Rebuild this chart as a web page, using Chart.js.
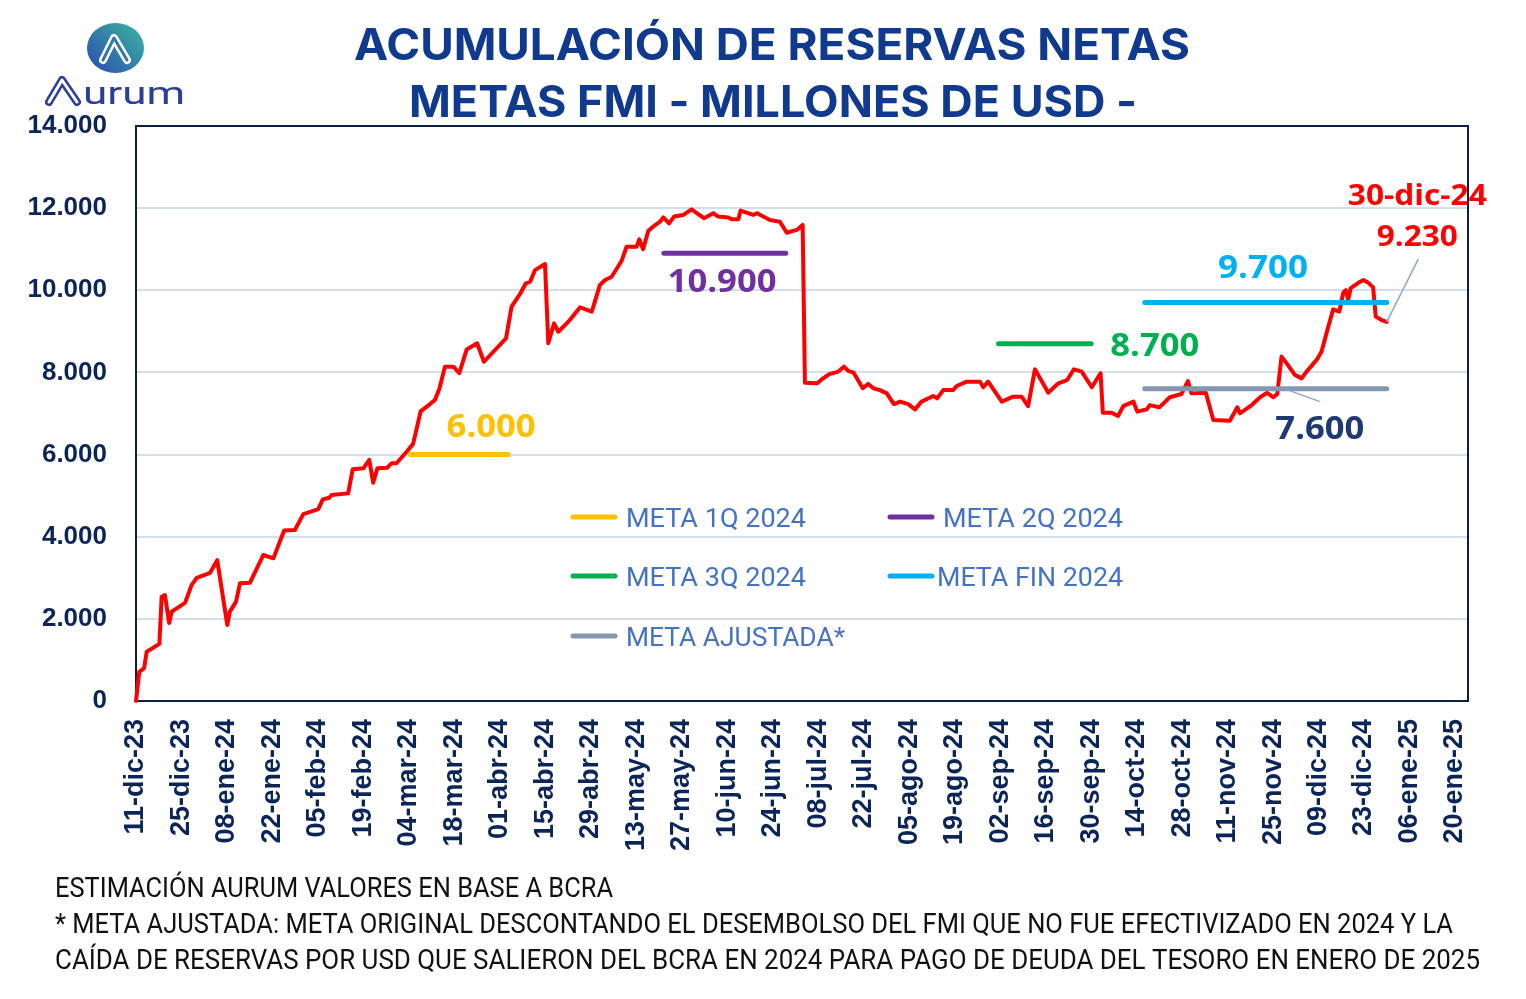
<!DOCTYPE html>
<html><head><meta charset="utf-8">
<script src="https://cdn.jsdelivr.net/npm/chart.js@4.4.1/dist/chart.umd.min.js"></script>
<style>html,body{margin:0;padding:0;background:#fff;}#wrap{width:1526px;height:999px;}</style>
</head><body><div id="wrap"><canvas id="c" width="1526" height="999"></canvas></div>
<script>
// ---------- DATA ----------
const tickLabels = ['11-dic-23','25-dic-23','08-ene-24','22-ene-24','05-feb-24','19-feb-24','04-mar-24','18-mar-24','01-abr-24','15-abr-24','29-abr-24','13-may-24','27-may-24','10-jun-24','24-jun-24','08-jul-24','22-jul-24','05-ago-24','19-ago-24','02-sep-24','16-sep-24','30-sep-24','14-oct-24','28-oct-24','11-nov-24','25-nov-24','09-dic-24','23-dic-24','06-ene-25','20-ene-25'];
const tickStepDays = 14;
const axisMaxDays = 410;
const yTicks = [0,2000,4000,6000,8000,10000,12000,14000];

// days since 11-dic-23
const days = [0,1,2.5,3.3,7.2,7.9,8.9,10.2,11,15.1,
17.1,18.7,22.8,25,28.1,28.9,30.8,32,35.1,39.2,
42.3,45.6,48.9,51.5,56.1,57.5,59.5,60.2,65.3,66.7,
70,71.8,73,74.3,77.3,78.7,80.2,83.3,85.3,87.6,
90.5,92,93.4,95.1,97.7,99.5,101.8,105,107.1,113.9,
115.6,118.2,120,121.3,122.8,125.9,126.9,128.7,130,133.1,
136.7,140.3,142.8,144.4,146.4,149.5,151,154.1,154.9,156.1,
157.7,159.2,161.3,162.3,164.1,165.6,168.5,171,174.8,177.7,
179.2,182.3,183.3,185.4,186.1,190,191.2,195.1,198.2,200.3,
203.4,205.2,205.9,209.7,211.4,213.4,216.2,217.9,219.2,220.9,
223.7,225.4,227,229,231.1,233.3,235.2,237.7,239.8,241.8,
245.4,246.6,248.5,251.5,252.6,255.7,259.8,260.8,262.3,266.5,
270,272.6,274.6,276.7,280.8,283.9,286.6,288.7,291.1,294.2,
296.9,297.6,300.3,302.3,303.9,307,308.2,311.1,312.1,315,
318.2,321.8,323.8,324.9,329.3,331.6,336.7,339,339.8,343.1,
346,348.2,350.1,351.3,352.6,354.2,356.7,358.8,360.3,363.4,
364.9,367,368.5,370.4,371.6,372.4,373.1,373.9,374.9,376.8,
377.8,379.3,380.8,381.6,383.4,385];
const reservas = [0,710,800,1200,1390,2540,2580,1900,2175,2390,
2820,3000,3120,3430,1850,2175,2420,2865,2880,3555,
3475,4150,4165,4550,4670,4910,4950,5015,5055,5640,
5665,5870,5315,5665,5680,5790,5790,6070,6260,7050,
7230,7330,7610,8140,8140,7980,8560,8710,8260,8830,
9600,9910,10170,10210,10490,10640,8710,9195,8990,9235,
9585,9480,10130,10250,10330,10720,11060,11060,11240,11000,
11450,11550,11670,11775,11630,11795,11835,11970,11755,11875,
11795,11775,11730,11730,11940,11835,11875,11710,11670,11400,
11470,11590,7750,7735,7850,7960,8020,8140,8040,7995,
7615,7720,7615,7570,7490,7230,7290,7230,7100,7290,
7425,7370,7570,7570,7670,7775,7775,7640,7775,7290,
7410,7410,7180,8075,7505,7735,7815,8075,8020,7640,
7980,7020,7020,6940,7180,7290,7045,7100,7205,7150,
7395,7475,7790,7490,7505,6840,6825,7150,7005,7185,
7395,7505,7395,7475,8385,8220,7940,7855,8020,8305,
8505,9115,9535,9480,9940,10005,9765,10050,10105,10210,
10250,10185,10070,9360,9275,9230];

const metaNames  = ['META 1Q 2024','META 2Q 2024','META 3Q 2024','META FIN 2024','META AJUSTADA*'];
const metaValues = [6000,10900,8700,9700,7600];
const metaStart  = [84.5,162.5,265.5,310.5,310.5];
const metaEnd    = [114.5,200,294,385,385];
const metaLabels = ['6.000','10.900','8.700','9.700','7.600'];
const lastDateLabel = '30-dic-24';
const lastValueLabel = '9.230';

// ---------- STYLE ----------
const metaColors = ['#ffc000','#7030a0','#00b050','#00b0f0','#8497b0'];
const metaLabelColors = ['#ffc000','#7030a0','#00b050','#00b0f0','#1f3a73'];
const NAVY = '#0b2559';
const fmt = v => String(v).replace(/\B(?=(\d{3})+(?!\d))/g,'.');

function fitText(ctx, text, x, y, width, font, color, align){
  ctx.save();
  ctx.font = font; ctx.fillStyle = color; ctx.textBaseline = 'alphabetic'; ctx.textAlign = 'left';
  const w = ctx.measureText(text).width;
  const s = width / w;
  const left = align === 'center' ? x - width/2 : x;
  ctx.translate(left, y); ctx.scale(s, 1);
  ctx.fillText(text, 0, 0);
  ctx.restore();
}

const datasets = [];
metaValues.forEach((v,i)=>{
  datasets.push({
    label: metaNames[i],
    data: [{x: metaStart[i], y: v},{x: metaEnd[i], y: v}],
    borderColor: metaColors[i], backgroundColor: metaColors[i],
    borderWidth: 5, borderCapStyle: 'round', pointRadius: 0, tension: 0, order: 0, clip: false
  });
});
datasets.push({
  label: 'Reservas netas',
  data: days.map((d,i)=>({x:d, y:reservas[i]})),
  borderColor: '#ff0000', borderWidth: 4, borderJoinStyle: 'round', borderCapStyle: 'round',
  pointRadius: 0, tension: 0, order: 1, clip: false
});

const border = {
  id: 'border',
  beforeDatasetsDraw(chart){
    const {ctx, chartArea: a} = chart;
    ctx.save(); ctx.strokeStyle = '#0b1e45'; ctx.lineWidth = 2;
    ctx.strokeRect(a.left, a.top, a.right - a.left, a.bottom - a.top);
    ctx.restore();
  }
};

const decor = {
  id: 'decor',
  beforeDraw(chart){
    const ctx = chart.ctx; ctx.save(); ctx.fillStyle = '#fff'; ctx.fillRect(0,0,chart.width,chart.height); ctx.restore();
  },
  afterDraw(chart){
    const ctx = chart.ctx;
    const xs = chart.scales.x, ys = chart.scales.y;
    // Title
    fitText(ctx, 'ACUMULACIÓN DE RESERVAS NETAS', 354, 60, 836, 'bold 44px Inter', '#0f3a8e');
    fitText(ctx, 'METAS FMI - MILLONES DE USD -', 409, 117, 728, 'bold 44px Inter', '#0f3a8e');

    // Logo
    ctx.save();
    const g = ctx.createLinearGradient(92,72,140,24);
    g.addColorStop(0,'#2c4fb0'); g.addColorStop(1,'#3bb3a0');
    ctx.beginPath(); ctx.ellipse(115.5,48,28.5,25,0,0,Math.PI*2); ctx.fillStyle = g; ctx.fill();
    ctx.lineJoin = 'round'; ctx.lineCap = 'round';
    ctx.beginPath(); ctx.moveTo(103,60); ctx.lineTo(114,38); ctx.lineTo(127,60);
    ctx.strokeStyle = '#fff'; ctx.lineWidth = 8; ctx.stroke();
    ctx.strokeStyle = '#3477ab'; ctx.lineWidth = 3; ctx.stroke();
    ctx.beginPath(); ctx.moveTo(49,102); ctx.lineTo(62,80); ctx.lineTo(77,102);
    ctx.strokeStyle = '#2b3f95'; ctx.lineWidth = 8; ctx.stroke();
    ctx.strokeStyle = '#fff'; ctx.lineWidth = 3; ctx.stroke();
    ctx.restore();
    fitText(ctx, 'urum', 83, 104, 102, '32px Roboto', '#2b3f95');

    // Meta value labels
    const lab = (text, d, v, w, size, color) => {
      const px = xs.getPixelForValue(d), py = ys.getPixelForValue(v);
      fitText(ctx, text, px, py + size*0.36, w, 'bold '+size+'px "Open Sans"', color, 'center');
    };
    const labelPos = [[109.3,6720,89],[180.4,10230,109],[313.6,8670,89],[346.9,10590,90],[364.4,6650,89]];
    metaLabels.forEach((t,i)=> lab(t, labelPos[i][0], labelPos[i][1], labelPos[i][2], 32, metaLabelColors[i]));
    lab(lastDateLabel, 394.4, 12320, 139, 28, '#ff0000');
    lab(lastValueLabel, 394.4, 11320, 81, 28, '#ff0000');

    // leader lines
    ctx.save(); ctx.lineWidth = 1.5; ctx.strokeStyle = '#8fa6d2';
    ctx.beginPath();
    ctx.moveTo(xs.getPixelForValue(353.6), ys.getPixelForValue(7600));
    ctx.lineTo(xs.getPixelForValue(364.4), ys.getPixelForValue(7290));
    ctx.moveTo(xs.getPixelForValue(394.7), ys.getPixelForValue(10760));
    ctx.lineTo(xs.getPixelForValue(385), ys.getPixelForValue(9230));
    ctx.stroke(); ctx.restore();

    // Legend
    const legendPos = [[573,517,626,180],[890,517,943,180],[573,576,626,180],[890,576,937,186],[573,636,626,219]];
    metaNames.forEach((n,i)=>{
      const [lx, ly, tx, tw] = legendPos[i];
      ctx.save(); ctx.strokeStyle = metaColors[i]; ctx.lineWidth = 5; ctx.lineCap = 'round';
      ctx.beginPath(); ctx.moveTo(lx, ly); ctx.lineTo(lx+42, ly); ctx.stroke(); ctx.restore();
      fitText(ctx, n, tx, ly + 9.5, tw, '26px Roboto', '#4472c4');
    });

    // Footnotes
    fitText(ctx, 'ESTIMACIÓN AURUM VALORES EN BASE A BCRA', 55, 897, 558, '28px Roboto', '#111');
    fitText(ctx, '* META AJUSTADA: META ORIGINAL DESCONTANDO EL DESEMBOLSO DEL FMI QUE NO FUE EFECTIVIZADO EN 2024 Y LA', 55, 933, 1398, '28px Roboto', '#111');
    fitText(ctx, 'CAÍDA DE RESERVAS POR USD QUE SALIERON DEL BCRA EN 2024 PARA PAGO DE DEUDA DEL TESORO EN ENERO DE 2025', 55, 969, 1425, '28px Roboto', '#111');
  }
};

new Chart(document.getElementById('c'), {
  type: 'line',
  data: { datasets },
  options: {
    responsive: false, animation: false, devicePixelRatio: 1,
    layout: { padding: { left: 0, top: 126, right: 58, bottom: 0 } },
    plugins: { legend: { display: false }, title: { display: false }, tooltip: { enabled: false } },
    scales: {
      x: {
        type: 'linear', min: 0, max: axisMaxDays,
        afterBuildTicks: s => { s.ticks = tickLabels.map((_,i)=>({value: i*tickStepDays})); },
        afterFit: s => { s.height = 298; },
        grid: { display: false, drawTicks: false },
        border: { display: false },
        ticks: {
          autoSkip: false, maxRotation: 90, minRotation: 90, padding: 18,
          color: NAVY, font: { family: 'Liberation Sans', weight: 'bold', size: 27 },
          callback: v => tickLabels[Math.round(v / tickStepDays)] || ''
        }
      },
      y: {
        min: 0, max: 14000,
        afterBuildTicks: s => { s.ticks = yTicks.map(v=>({value:v})); },
        afterFit: s => { s.width = 136; },
        grid: { color: '#d5deef', lineWidth: 2, drawTicks: false },
        border: { display: false },
        ticks: {
          padding: 29, color: NAVY, font: { family: 'Liberation Sans', weight: 'bold', size: 26 },
          callback: v => fmt(v)
        }
      }
    }
  },
  plugins: [border, decor]
});
</script></body></html>
